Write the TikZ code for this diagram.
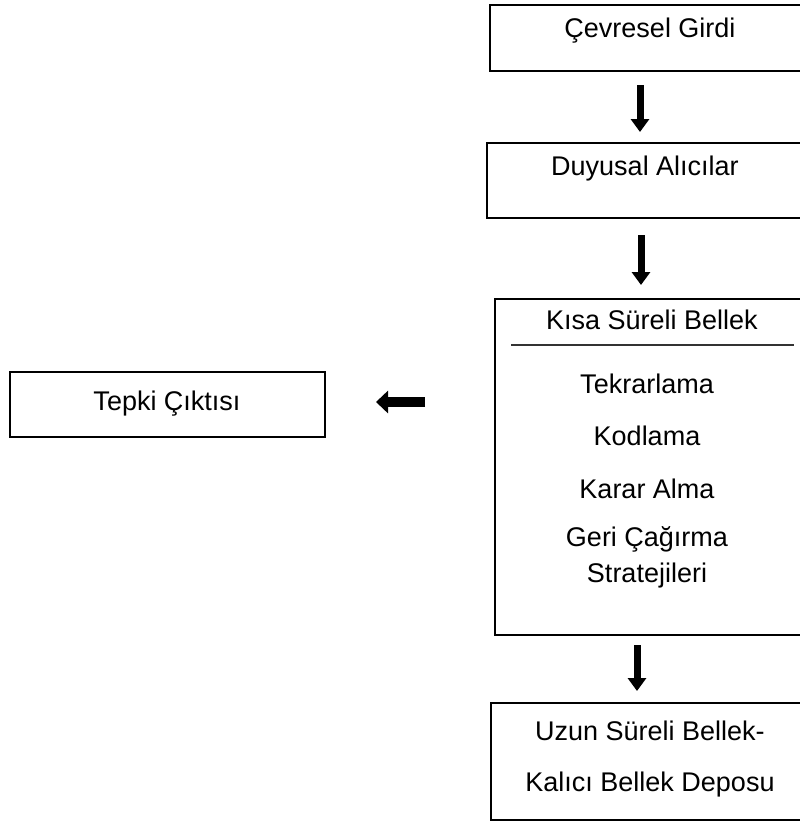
\documentclass[tikz,border=0pt]{standalone}
\usepackage{fontspec}
\setmainfont{Liberation Sans}
\usetikzlibrary{arrows.meta}
\begin{document}
\begin{tikzpicture}[x=1pt,y=-1pt,
  box/.style={draw=black, line width=2.4pt, rectangle, inner sep=0pt, outer sep=0pt},
  lbl/.style={inner sep=0pt, font=\fontsize{27}{31}\selectfont, text=black, align=center},
  downarr/.style={line width=7pt, -{Triangle[width=18pt,length=13pt]}},
  sidearr/.style={line width=10pt, -{Triangle[width=22pt,length=12pt]}}
]
\useasboundingbox (0,0) rectangle (800,823);
\clip (0,0) rectangle (800,823);

% boxes (the right-hand column runs off the page edge)
\node[box, minimum width=315pt, minimum height=66pt]  (cevre) at (647.5,38) {};
\node[box, minimum width=318pt, minimum height=75pt]  (duyu)  at (646,180.5) {};
\node[box, minimum width=310pt, minimum height=336pt] (kisa)  at (650,467) {};
\node[box, minimum width=314pt, minimum height=117pt] (uzun)  at (648,761.5) {};
\node[box, minimum width=315pt, minimum height=65pt]  (tepki) at (167.5,404.5) {};

% labels
\node[lbl] (tcevre) at (650,31)  {Çevresel Girdi};
\node[lbl] (tduyu)  at (645,169) {Duyusal Alıcılar};
\node[lbl] (tkisa)  at (652,320) {Kısa Süreli Bellek};
\draw[line width=1.3pt, black!80] (511,345) coordinate (rs) -- (794,345) coordinate (re);
\node[lbl] (ttekrar) at (647,384) {Tekrarlama};
\node[lbl] (tkod)    at (647,436) {Kodlama};
\node[lbl] (tkarar)  at (647,489) {Karar Alma};
\node[lbl] (tgeri)   at (647,539) {Geri Çağırma};
\node[lbl] (tstrat)  at (647,576) {Stratejileri};
\node[lbl] (tuzun1)  at (650,731) {Uzun Süreli Bellek-};
\node[lbl] (tuzun2)  at (650,785) {Kalıcı Bellek Deposu};
\node[lbl] (ttepki)  at (167,404) {Tepki Çıktısı};

% arrows between the stages
\coordinate (a1s) at (640,85);  \coordinate (a1e) at (640,132);
\coordinate (a2s) at (641,235); \coordinate (a2e) at (641,285);
\coordinate (a3s) at (637,645); \coordinate (a3e) at (637,691);
\coordinate (a4s) at (425,402); \coordinate (a4e) at (376,402);
\draw[downarr] (a1s) -- (a1e);
\draw[downarr] (a2s) -- (a2e);
\draw[downarr] (a3s) -- (a3e);
\draw[sidearr] (a4s) -- (a4e);
\end{tikzpicture}
\end{document}
